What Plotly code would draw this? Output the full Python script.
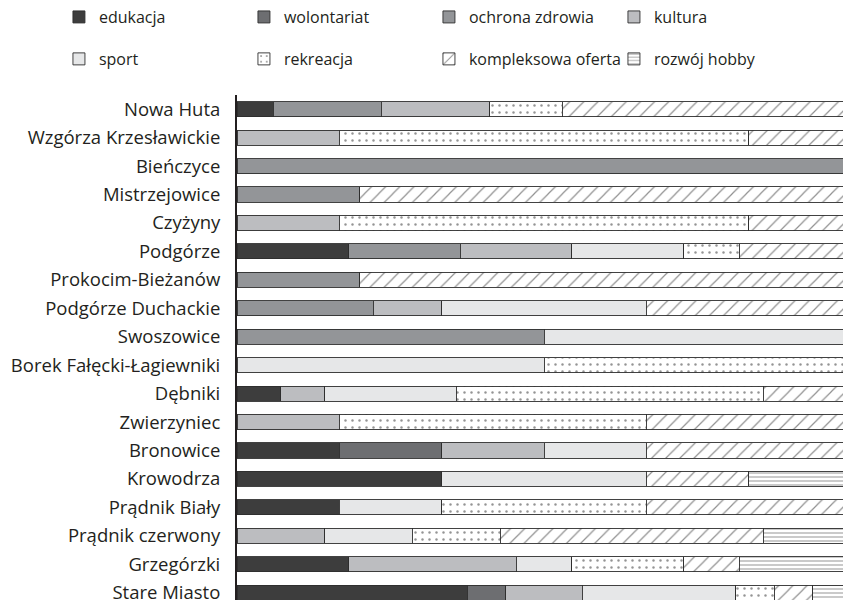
import plotly.graph_objects as go

categories = ["Nowa Huta", "Wzgórza Krzesławickie", "Bieńczyce", "Mistrzejowice", "Czyżyny",
              "Podgórze", "Prokocim-Bieżanów", "Podgórze Duchackie", "Swoszowice",
              "Borek Fałęcki-Łagiewniki", "Dębniki", "Zwierzyniec", "Bronowice", "Krowodrza",
              "Prądnik Biały", "Prądnik czerwony", "Grzegórzki", "Stare Miasto"]

# counts per district (shares shown as 100% stacked bars)
edukacja          = [1, None, None, None, None, 2, None, None, None, None, 1, None, 1, 2, 1, None, 2, 6]
wolontariat       = [None, None, None, None, None, None, None, None, None, None, None, None, 1, None, None, None, None, 1]
ochrona_zdrowia   = [3, None, 1, 1, None, 2, 1, 2, 1, None, None, None, None, None, None, None, None, None]
kultura           = [3, 1, None, None, 1, 2, None, 1, None, None, 1, 1, 1, None, None, 1, 3, 2]
sport             = [None, None, None, None, None, 2, None, 3, 1, 1, 3, None, 1, 2, 1, 1, 1, 4]
rekreacja         = [2, 4, None, None, 4, 1, None, None, None, 1, 7, 3, None, None, 2, 1, 2, 1]
kompleksowa       = [8, 1, None, 4, 1, 2, 4, 3, None, None, 2, 2, 2, 1, 2, 3, 1, 1]
rozwoj_hobby      = [None, None, None, None, None, None, None, None, None, None, None, None, None, 1, None, 1, 2, 1]

series_names = ["edukacja", "wolontariat", "ochrona zdrowia", "kultura",
                "sport", "rekreacja", "kompleksowa oferta", "rozwój hobby"]
series_values = [edukacja, wolontariat, ochrona_zdrowia, kultura,
                 sport, rekreacja, kompleksowa, rozwoj_hobby]

fills = ["#3d3d3d", "#6d6e71", "#939598", "#bcbdc0", "#e6e7e8", "white", "white", "white"]
patterns = [None, None, None, None, None,
            dict(shape=".", fgcolor="#2a2a2a", bgcolor="white", size=7, solidity=0.1),
            dict(shape="/", fgcolor="#222222", bgcolor="white", size=10, solidity=0.12),
            dict(shape="-", fgcolor="#2a2a2a", bgcolor="white", size=4, solidity=0.25)]
legends = ["legend", "legend", "legend", "legend", "legend2", "legend2", "legend2", "legend2"]

fig = go.Figure()
for name, vals, col, pat, lg in zip(series_names, series_values, fills, patterns, legends):
    marker = dict(color=col, line=dict(color="#2e2e2e", width=0.9))
    if pat:
        marker["pattern"] = pat
    fig.add_trace(go.Bar(y=categories, x=vals, name=name, orientation="h",
                         marker=marker, legend=lg, hoverinfo="skip"))

font_family = "Open Sans"
fig.update_layout(
    width=851, height=600,
    margin=dict(l=229, r=8, t=87, b=0, autoexpand=False),
    barmode="stack", barnorm="percent", bargap=0.47,
    plot_bgcolor="white", paper_bgcolor="white",
    font=dict(family=font_family, color="#231f20", size=16),
    showlegend=True,
    legend=dict(orientation="h", x=-0.29, xanchor="left", y=1.152, yanchor="middle",
                entrywidth=140, traceorder="normal", font=dict(size=16, family=font_family),
                bgcolor="rgba(0,0,0,0)"),
    legend2=dict(orientation="h", x=-0.29, xanchor="left", y=1.0702, yanchor="middle",
                 entrywidth=140, traceorder="normal", font=dict(size=16, family=font_family),
                 bgcolor="rgba(0,0,0,0)"),
)
fig.update_xaxes(range=[0, 100], showgrid=False, showticklabels=False, zeroline=False,
                 showline=False, ticks="")
fig.update_yaxes(categoryorder="array", categoryarray=categories, range=[17.54, -0.5],
                 showgrid=False, showline=True, linecolor="#231f20", linewidth=2,
                 ticks="", ticklabelstandoff=11, tickfont=dict(size=18.5, family=font_family, color="#231f20"))

fig.write_html("out.html")
